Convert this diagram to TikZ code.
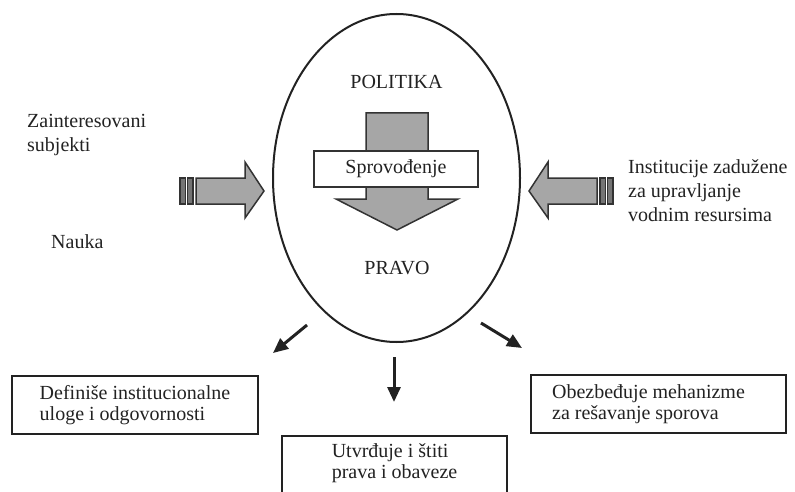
\documentclass[tikz,border=0pt]{standalone}
\usepackage{fontspec}
\setmainfont{Liberation Serif}
\usetikzlibrary{shapes.geometric,arrows.meta}
\definecolor{ink}{HTML}{222222}
\definecolor{arrfill}{HTML}{A6A6A6}
\definecolor{arredge}{HTML}{333333}
\tikzset{
  lbl/.style={inner sep=0pt, text=ink, font=\fontsize{20}{24}\selectfont, align=left},
  infobox/.style={draw=ink, line width=2pt, fill=white, text=ink, font=\fontsize{20}{21}\selectfont, align=left, inner sep=0pt},
  bigarrow/.style={fill=arrfill, draw=arredge, line width=1.5pt, line join=miter},
  stripe/.style={fill=arrfill!70!black, draw=arredge, line width=1.2pt},
  thinarrow/.style={draw=ink, line width=3pt, -{Triangle[length=15pt,width=13pt]}}
}
\begin{document}
\begin{tikzpicture}[x=1pt,y=-1pt]
\useasboundingbox (0,0) rectangle (795,492);

% central ellipse
\node[draw=ink, ellipse, line width=2pt, minimum width=247pt, minimum height=328pt, inner sep=0pt] (ell) at (396.5,178) {};

% labels inside ellipse
\node[lbl, anchor=base] (pol) at (396.5,89) {POLITIKA};
\node[lbl, anchor=base] (pra) at (397,274) {PRAVO};

% central down arrow
\draw[bigarrow] (366,113) -- (428,113) -- (428,199) -- (458,199) -- (397,230) -- (336,199) -- (366,199) -- cycle;
\node[draw=arredge, line width=1.5pt, fill=white, text=ink, font=\fontsize{20}{24}\selectfont,
      minimum width=164pt, minimum height=36pt, inner sep=0pt] (spr) at (396,169) {Sprovođenje};

% left input arrow
\draw[stripe] (180,178) rectangle (185.7,204);
\draw[stripe] (187.3,178) rectangle (193,204);
\draw[bigarrow] (196,178) -- (245,178) -- (245,162) -- (264,191) -- (245,218) -- (245,204) -- (196,204) -- cycle;

% right input arrow
\draw[stripe] (613,178) rectangle (607.3,204);
\draw[stripe] (605.7,178) rectangle (600,204);
\draw[bigarrow] (597,178) -- (548,178) -- (548,162) -- (529,191) -- (548,218) -- (548,204) -- (597,204) -- cycle;

% left side texts
\node[lbl, anchor=north west] (zain) at (27,114.3) {Zainteresovani\\subjekti};
\node[lbl, anchor=base west] (nauka) at (51,248) {Nauka};

% right side text
\node[lbl, anchor=north west] (inst) at (628,159.3) {Institucije zadužene\\za upravljanje\\vodnim resursima};

% output boxes
\node[infobox, minimum width=246pt, minimum height=58pt] (b1) at (135,405) {Definiše institucionalne\\uloge i odgovornosti};
\node[infobox, minimum width=255pt, minimum height=58pt] (b3) at (658.5,404) {Obezbeđuje mehanizme\hspace*{20pt}\\za rešavanje sporova};
\node[infobox, anchor=north, minimum width=225pt, inner ysep=8pt] (b2) at (394.5,435) {Utvrđuje i štiti\\prava i obaveze\rule[-30pt]{0pt}{30pt}};

% thin arrows
\coordinate (l0) at (307,325);
\coordinate (l1) at (273,353);
\coordinate (m0) at (394,357);
\coordinate (m1) at (394,402);
\coordinate (r0) at (481,323);
\coordinate (r1) at (522,348);
\draw[thinarrow] (l0) -- (l1);
\draw[thinarrow] (m0) -- (m1);
\draw[thinarrow] (r0) -- (r1);
\end{tikzpicture}
\end{document}
